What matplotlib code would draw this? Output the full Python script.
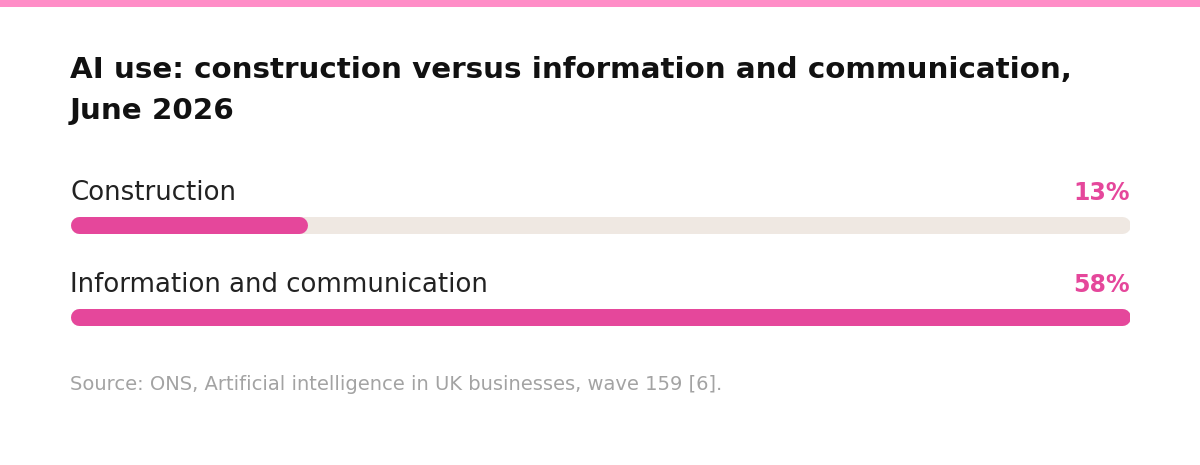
import matplotlib
matplotlib.use("Agg")
import matplotlib.pyplot as plt

# data
categories = ["Construction", "Information and communication"]
values = [13, 58]
value_labels = ["13%", "58%"]
title_lines = ["AI use: construction versus information and communication,",
               "June 2026"]
source = "Source: ONS, Artificial intelligence in UK businesses, wave 159 [6]."

PINK = "#E5479B"
TRACK = "#EFE8E2"
STRIPE = "#FF8DC7"

plt.rcParams["font.family"] = ["DejaVu Sans"]

W, H = 1200, 465
fig = plt.figure(figsize=(W / 100, H / 100), dpi=100)
fig.patch.set_facecolor("white")

# overlay axes in pixel coordinates (for text and the top stripe)
ax = fig.add_axes([0, 0, 1, 1])
ax.set_xlim(0, W)
ax.set_ylim(H, 0)
ax.axis("off")

ax.axhspan(0, 7, color=STRIPE, lw=0)

for line, y in zip(title_lines, [78, 119]):
    ax.text(70, y, line, fontsize=21.2, fontweight="bold", color="#111111",
            va="baseline", ha="left")

# bar axes: x in data units, y in pixels
left, right = 70, 1130
bax = fig.add_axes([left / W, 0, (right - left) / W, 1])
bax.set_ylim(H, 0)
vmax = max(values)
bax.set_xlim(0, vmax)
bax.axis("off")
bax.patch.set_alpha(0)

bar_h = 17
pad = (bar_h / 2) * vmax / (right - left)
bar_y = [224.5, 316.5]
label_y = [200, 292]

for cat, v, lab, by, ly in zip(categories, values, value_labels, bar_y, label_y):
    bax.plot([pad, vmax - pad], [by, by], color=TRACK, lw=bar_h * 0.72,
             solid_capstyle="round")
    bax.plot([pad, v - pad], [by, by], color=PINK, lw=bar_h * 0.72,
             solid_capstyle="round")
    ax.text(left, ly, cat, fontsize=18.7, color="#222222",
            va="baseline", ha="left")
    ax.text(right, ly, lab, fontsize=17, fontweight="bold", color=PINK,
            va="baseline", ha="right")

ax.text(70, 390, source, fontsize=14, color="#A3A3A3", va="baseline", ha="left")

fig.savefig("out.png", dpi=100, facecolor="white")
